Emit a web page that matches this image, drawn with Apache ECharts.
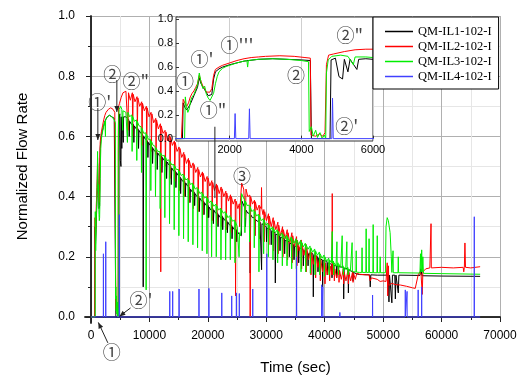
<!DOCTYPE html>
<html><head><meta charset="utf-8">
<script src="https://cdn.jsdelivr.net/npm/echarts@6/dist/echarts.min.js"></script>
<style>html,body{margin:0;padding:0;background:#fff}#c{width:522px;height:378px}</style>
</head><body><div id="c"></div>
<script>
const seriesNames = ['QM-IL1-102-I','QM-IL2-102-I','QM-IL3-102-I','QM-IL4-102-I'];

const il1Data = [[0,0],[680,0],[700,0.30],[750,0.26],[800,0.24],[850,0.24],[900,0.29],[1000,0.36],[1100,0.43],[1150,0.51],[1200,0.46],[1300,0.41],[1400,0.36],[1500,0.37],[1550,0.50],[1600,0.56],[1700,0.585],[1800,0.60],[2000,0.62],[2400,0.65],[2800,0.665],[3200,0.67],[3600,0.665],[4000,0.66],[4250,0.655],[4280,0.0],[4800,0.0],[4830,0.66],[4950,0.675],[5050,0.52],[5150,0.50],[5200,0.665],[5300,0.56],[5360,0.665],[5550,0.58],[5600,0.665],[5800,0.67],[6000,0.665],
[6500,0.655],[6560,0.60],[6640,0.65],[6950,0.64],[7300,0.64],[7360,0.58],[7440,0.635],[7750,0.625],[8100,0.625],[8160,0.56],[8240,0.62],[8550,0.61],[8900,0.605],[8960,0.10],[9040,0.60],[9350,0.59],[9700,0.585],[9760,0.53],[9840,0.58],[10150,0.57],[10500,0.565],[10560,0.51],[10640,0.56],[10950,0.55],[11300,0.55],[11360,0.49],[11440,0.545],[11750,0.535],[12100,0.535],[12160,0.48],[12240,0.53],[12550,0.52],[12900,0.52],[12960,0.46],[13040,0.515],[13350,0.505],[13700,0.50],[13760,0.44],[13840,0.495],[14150,0.485],[14500,0.485],[14560,0.43],[14640,0.48],[14950,0.47],[15300,0.465],[15360,0.41],[15440,0.46],[15750,0.45],[16100,0.45],[16160,0.40],[16240,0.445],[16550,0.435],[16900,0.43],[16960,0.38],[17040,0.425],[17350,0.415],[17700,0.415],[17760,0.37],[17840,0.41],[18150,0.40],[18500,0.40],[18560,0.35],[18640,0.395],[18950,0.385],[19300,0.385],[19360,0.34],[19440,0.38],[19750,0.37],[20100,0.37],[20160,0.33],[20240,0.365],[20550,0.355],[20900,0.36],[20960,0.31],[21040,0.355],[21350,0.345],[21700,0.345],[21760,0.30],[21840,0.34],[22150,0.33],[22500,0.335],[22560,0.29],[22640,0.33],[22950,0.32],[23300,0.32],[23360,0.28],[23440,0.315],[23750,0.305],[24100,0.305],[24160,0.26],[24240,0.30],[24550,0.29],[24900,0.29],[24960,0.25],[25040,0.285],[25350,0.275],
[25500,0.27],[25750,0.27],[25850,0.385],[26000,0.38],
[26400,0.36],[26460,0.30],[26540,0.355],[26850,0.345],[27200,0.345],[27260,0.146],[27340,0.34],[27650,0.33],[28000,0.33],[28060,0.27],[28140,0.325],[28450,0.318],[28800,0.32],[28860,0.26],[28940,0.315],[29150,0.31],[29210,0.157],[29270,0.31],[29500,0.305],[30000,0.30],[30060,0.25],[30140,0.295],[30450,0.29],[30800,0.29],[30860,0.24],[30940,0.285],[31250,0.28],[31500,0.28],[31560,0.113],[31640,0.275],[31950,0.27],[32300,0.27],[32360,0.22],[32440,0.265],[32750,0.26],[33100,0.26],[33160,0.21],[33240,0.255],[33550,0.25],[33900,0.25],[33960,0.20],[34040,0.245],[34350,0.24],[34700,0.24],[34760,0.19],[34840,0.235],[35150,0.235],[35500,0.235],[35560,0.18],[35640,0.23],[35950,0.225],[36300,0.225],[36360,0.17],[36440,0.22],[36750,0.215],[37100,0.215],[37160,0.17],[37240,0.21],[37550,0.21],[38000,0.21],[38060,0.067],[38140,0.205],[38450,0.20],[38800,0.20],[38860,0.15],[38940,0.195],[39250,0.19],[39600,0.19],[39660,0.10],[39740,0.188],[40050,0.185],[40400,0.185],[40460,0.14],[40540,0.18],[40850,0.175],[41200,0.175],[41260,0.13],[41340,0.172],[41650,0.17],[42000,0.17],[42060,0.13],[42140,0.168],[42450,0.166],[43200,0.165],[43260,0.06],[43340,0.162],[43650,0.16],[44000,0.16],[44060,0.08],[44140,0.157],[44450,0.153],[44800,0.15],[44860,0.12],[44940,0.148],[45250,0.145],
[45500,0.143],[46000,0.141],[47700,0.14],[47800,0.10],[47900,0.14],[49000,0.139],[50900,0.139],[51000,0.05],[51100,0.139],[51400,0.139],[51500,0.047],[51600,0.139],[52000,0.139],[52100,0.06],[52200,0.139],[52500,0.139],[52600,0.08],[52700,0.139],[56300,0.138],[56450,0.16],[56550,0.15],[56650,0.137],[60000,0.136],[66600,0.135]];

const il2Data = [[0,0],[650,0],[700,0.33],[760,0.29],[800,0.27],[850,0.30],[900,0.35],[950,0.38],[1000,0.40],[1050,0.43],[1100,0.46],[1150,0.53],[1200,0.48],[1250,0.44],[1300,0.42],[1350,0.39],[1400,0.38],[1450,0.39],[1500,0.42],[1550,0.53],[1600,0.58],[1700,0.60],[1800,0.615],[2000,0.635],[2200,0.655],[2400,0.67],[2600,0.68],[2800,0.685],[3000,0.69],[3400,0.695],[3800,0.69],[4100,0.68],[4250,0.675],
[4270,0.03],[4400,0.02],[4500,0.04],[4600,0.02],[4660,0.05],[4700,0.62],[4760,0.70],[4900,0.71],[5200,0.73],[5500,0.745],[5800,0.75],[6000,0.75],
[6300,0.752],[6360,0.62],[6440,0.745],[6750,0.72],[7100,0.745],[7160,0.60],[7240,0.74],[7550,0.715],[7900,0.732],[7960,0.62],[8040,0.728],[8350,0.70],[8700,0.715],[8760,0.57],[8840,0.71],[9150,0.685],[9500,0.70],[9560,0.58],[9640,0.695],[9950,0.665],[10300,0.68],[10360,0.55],[10440,0.675],[10750,0.645],[11100,0.66],[11160,0.54],[11240,0.655],[11550,0.625],[11900,0.642],[11960,0.15],[12040,0.635],[12350,0.61],[12700,0.62],[12760,0.50],[12840,0.615],[13150,0.585],[13500,0.603],[13560,0.46],[13640,0.597],[13950,0.57],[14300,0.585],[14360,0.45],[14440,0.58],[14750,0.55],[15100,0.565],[15160,0.42],[15240,0.56],[15550,0.53],[15900,0.547],[15960,0.40],[16040,0.54],[16350,0.51],[16700,0.527],[16760,0.38],[16840,0.52],[17150,0.495],[17500,0.512],[17560,0.36],[17640,0.507],[17950,0.48],[18300,0.497],[18360,0.35],[18440,0.49],[18750,0.465],[19100,0.482],[19160,0.34],[19240,0.477],[19550,0.45],[19900,0.467],[19960,0.33],[20040,0.462],[20350,0.435],[20700,0.453],[20760,0.32],[20840,0.447],[21150,0.42],[21500,0.442],[21560,0.31],[21640,0.437],[21950,0.41],[22300,0.432],[22360,0.30],[22440,0.426],[22750,0.40],[23100,0.418],[23160,0.29],[23240,0.412],[23550,0.385],[23900,0.406],[23960,0.28],[24040,0.40],[24350,0.375],[24700,0.392],[24760,0.07],[24840,0.385],[25150,0.36],[25400,0.376],[25460,0.30],[25540,0.37],[25700,0.365],
[25800,0.445],[25950,0.44],[26150,0.425],
[26400,0.43],[26460,0.33],[26540,0.425],[26850,0.40],[27200,0.405],[27260,0.0],[27340,0.40],[27650,0.375],[28000,0.388],[28060,0.27],[28140,0.383],[28450,0.355],[28800,0.372],[28860,0.26],[28940,0.367],[29150,0.36],[29200,0.43],[29250,0.36],[29450,0.34],[29600,0.357],[29660,0.25],[29740,0.35],[30050,0.32],[30400,0.343],[30460,0.24],[30540,0.335],[30850,0.30],[31200,0.33],[31260,0.22],[31340,0.32],[31650,0.29],[32000,0.315],[32060,0.21],[32140,0.305],[32450,0.27],[32800,0.30],[32860,0.20],[32940,0.29],[33250,0.26],[33600,0.29],[33660,0.19],[33740,0.28],[34050,0.245],[34400,0.28],[34460,0.18],[34540,0.27],[34850,0.235],[35200,0.267],[35260,0.17],[35340,0.255],[35650,0.22],[36000,0.256],[36060,0.16],[36140,0.245],[36450,0.205],[36800,0.242],[36860,0.15],[36940,0.23],[37250,0.19],[37600,0.227],[37660,0.14],[37740,0.215],[38050,0.175],[38400,0.216],[38460,0.13],[38540,0.205],[38850,0.165],[39200,0.202],[39260,0.12],[39340,0.19],[39650,0.15],[40000,0.192],[40060,0.11],[40140,0.18],[40450,0.14],[40800,0.18],[40860,0.12],[40940,0.17],[41250,0.14],[41300,0.41],[41350,0.14],[41600,0.17],[41660,0.12],[41740,0.16],[42050,0.13],[42400,0.165],[42460,0.115],[42540,0.155],[42850,0.125],[43200,0.16],[43260,0.11],[43340,0.15],[43650,0.12],[44000,0.157],[44060,0.11],[44140,0.148],[44450,0.12],[44800,0.152],[44860,0.115],[44940,0.145],[45250,0.125],
[45500,0.145],[46000,0.142],[47000,0.14],[47600,0.14],[47800,0.12],[48000,0.13],[48200,0.125],[49000,0.125],[49500,0.118],[50000,0.12],[50500,0.118],[50700,0.18],[50800,0.07],[50900,0.17],[51000,0.105],[51500,0.112],[52000,0.108],[53000,0.106],[54000,0.102],[55000,0.097],[55500,0.095],[56000,0.14],[56300,0.15],[56500,0.14],[56700,0.075],[56800,0.15],[57300,0.16],[58000,0.163],[58150,0.163],[58200,0.31],[58250,0.163],[60000,0.165],[62000,0.163],[63700,0.165],[63800,0.15],[63900,0.165],[64000,0.246],[64100,0.165],[65000,0.163],[66600,0.167]];

const il3Data = [[0,0],[740,0],[760,0.35],[790,0.27],[830,0.22],[870,0.25],[910,0.32],[950,0.35],[1000,0.37],[1050,0.41],[1100,0.45],[1150,0.55],[1200,0.47],[1250,0.42],[1300,0.44],[1350,0.37],[1400,0.34],[1450,0.32],[1500,0.33],[1550,0.38],[1600,0.46],[1650,0.52],[1700,0.56],[1800,0.59],[1900,0.605],[2000,0.615],[2200,0.635],[2400,0.65],[2480,0.655],[2500,0.60],[2520,0.655],[2800,0.665],[3200,0.67],[3600,0.665],[4000,0.655],[4200,0.645],
[4220,0.06],[4280,0.10],[4330,0.02],[4400,0.07],[4450,0.01],[4520,0.05],[4580,0.0],[4640,0.03],[4680,0.0],[4700,0.55],[4750,0.66],[4850,0.69],[5100,0.70],[5300,0.69],[5450,0.62],[5500,0.685],[5800,0.685],[6000,0.68],
[6200,0.685],[6260,0.58],[6340,0.68],[6650,0.665],[7000,0.672],[7060,0.55],[7140,0.667],[7450,0.65],[7800,0.655],[7860,0.52],[7940,0.65],[8250,0.635],[8600,0.632],[8660,0.48],[8740,0.627],[9050,0.61],[9400,0.612],[9460,0.09],[9540,0.607],[9850,0.59],[10200,0.59],[10260,0.42],[10340,0.585],[10650,0.57],[11000,0.567],[11060,0.40],[11140,0.562],[11450,0.55],[11800,0.55],[11860,0.36],[11940,0.545],[12250,0.535],[12600,0.537],[12660,0.33],[12740,0.532],[13050,0.52],[13400,0.522],[13460,0.31],[13540,0.517],[13850,0.505],[14200,0.507],[14260,0.29],[14340,0.502],[14650,0.49],[15000,0.49],[15060,0.27],[15140,0.485],[15450,0.47],[15800,0.475],[15860,0.26],[15940,0.47],[16250,0.455],[16600,0.46],[16660,0.25],[16740,0.455],[17050,0.44],[17400,0.445],[17460,0.24],[17540,0.44],[17850,0.425],[18200,0.43],[18260,0.23],[18340,0.425],[18650,0.41],[19000,0.415],[19060,0.22],[19140,0.41],[19450,0.395],[19800,0.40],[19860,0.21],[19940,0.395],[20250,0.38],[20600,0.386],[20660,0.20],[20740,0.381],[21050,0.368],[21400,0.375],[21460,0.20],[21540,0.37],[21850,0.355],[22200,0.362],[22260,0.19],[22340,0.357],[22650,0.345],[23000,0.35],[23060,0.19],[23140,0.345],[23450,0.33],[23800,0.337],[23860,0.19],[23940,0.332],[24250,0.318],[24600,0.322],[24660,0.18],[24740,0.317],[25050,0.30],
[25300,0.30],[25360,0.20],[25440,0.28],[25600,0.27],[25700,0.29],[25800,0.41],[26000,0.40],
[26300,0.39],[26360,0.28],[26440,0.385],[26750,0.37],[27100,0.372],[27160,0.25],[27240,0.367],[27550,0.35],[27900,0.357],[27960,0.23],[28040,0.352],[28350,0.335],[28700,0.342],[28760,0.15],[28840,0.337],[29150,0.32],[29500,0.327],[29560,0.21],[29640,0.322],[29950,0.305],[30300,0.312],[30360,0.20],[30440,0.307],[30750,0.29],[31100,0.30],[31160,0.19],[31240,0.295],[31550,0.28],[31900,0.29],[31960,0.18],[32040,0.285],[32350,0.27],[32700,0.28],[32760,0.17],[32840,0.275],[33150,0.26],[33500,0.272],[33560,0.17],[33640,0.267],[33950,0.25],[34300,0.266],[34360,0.16],[34440,0.26],[34750,0.245],[35100,0.26],[35160,0.16],[35240,0.255],[35550,0.24],[35900,0.255],[35960,0.15],[36040,0.25],[36350,0.233],[36700,0.245],[36760,0.15],[36840,0.24],[37150,0.225],[37500,0.236],[37560,0.145],[37640,0.23],[37950,0.215],[38300,0.226],[38360,0.14],[38440,0.22],[38750,0.205],[39100,0.216],[39160,0.14],[39240,0.21],[39550,0.195],[39900,0.206],[39960,0.135],[40040,0.20],[40350,0.185],[40700,0.196],[40760,0.14],[40840,0.19],[41150,0.18],[41250,0.18],[41300,0.284],[41350,0.178],[41500,0.186],[41560,0.14],[41640,0.18],[41950,0.17],[42050,0.17],[42100,0.25],[42150,0.168],[42300,0.18],[42360,0.14],[42440,0.175],[42750,0.165],[42950,0.165],[43000,0.27],[43050,0.163],[43150,0.17],[43210,0.14],[43290,0.165],[43600,0.158],[43750,0.158],[43800,0.25],[43850,0.156],[43950,0.165],[44010,0.14],[44090,0.16],[44400,0.152],[44650,0.152],[44700,0.247],[44750,0.15],
[45000,0.155],[45350,0.15],[45400,0.22],[45450,0.149],[46000,0.148],[46350,0.148],[46400,0.23],[46450,0.148],[47050,0.148],[47100,0.293],[47150,0.148],[47550,0.148],[47600,0.26],[47650,0.148],[48250,0.147],[48300,0.307],[48350,0.147],[48950,0.147],[49000,0.27],[49050,0.147],[49450,0.147],[49500,0.20],[49550,0.147],[50400,0.147],[50500,0.30],[50700,0.33],[50900,0.32],[51200,0.28],[51400,0.20],[51500,0.148],[51650,0.147],[51700,0.22],[51750,0.147],[52550,0.147],[52600,0.20],[52650,0.147],[56300,0.146],[56400,0.21],[56500,0.15],[56600,0.223],[56700,0.15],[56800,0.20],[56900,0.145],[60000,0.144],[66600,0.142]];

const il4Data = [[0,0],[2130,0],[2150,0.21],[2170,0],[2530,0],[2550,0.25],[2570,0],[4850,0],[4870,0.34],[4890,0],[13480,0],[13500,0.085],[13520,0],[13980,0],[14000,0.085],[14020,0],[15080,0],[15100,0.093],[15120,0],[18480,0],[18500,0.093],[18520,0],[20180,0],[20200,0.095],[20220,0],[22380,0],[22400,0.08],[22420,0],[24080,0],[24100,0.07],[24120,0],[24880,0],[24900,0.08],[24920,0],[25380,0],[25400,0.078],[25420,0],[27680,0],[27700,0.093],[27720,0],[30080,0],[30100,0.21],[30120,0],[35180,0],[35200,0.2],[35220,0],[39480,0],[39500,0.107],[39520,0],[39680,0],[39700,0.1],[39720,0],[42580,0],[42600,0.015],[42620,0],[48180,0],[48200,0.073],[48220,0],[53780,0],[53800,0.09],[53820,0],[54080,0],[54100,0.085],[54120,0],[55980,0],[56000,0.09],[56020,0],[56580,0],[56600,0.1],[56620,0],[65580,0],[65600,0.333],[65620,0],[66600,0]];

const mainXTicks = [0,10000,20000,30000,40000,50000,60000,70000];
const mainYTicks = [0,0.2,0.4,0.6,0.8,1.0];
const insetXTicks = [2000,4000,6000];
const insetYTicks = [0,0.2,0.4,0.6,0.8,1.0];

// annotations: [text, time, value] in data units of the main / inset axes
const mainNotes = [["①'",1540,0.714],["②",3680,0.807],["②\"",7700,0.784],["③",25840,0.468],["②'",8560,0.056],["①",3590,-0.116]];
const mainArrows = [[[1200,0.694],[1200,0.588]],[[4450,0.787],[4450,0.681]],[[6790,0.030],[4880,0.002]],[[2910,-0.086],[1280,-0.018]]];
const mainPointer = [[21220,0.632],[21220,0.395]];
const insetNotes = [["①",751,0.479],["①'",1225,0.664],["①'''",2200,0.785],["①\"",1532,0.24],["②",3847,0.534],["②\"",5353,0.869],["②'",5270,0.102]];

const seriesData = [il1Data, il2Data, il3Data, il4Data];
const colors = ['#000000','#ff0000','#00ee00','#4040ff'];
const sansFont = 'Liberation Sans, Arial, sans-serif';
const noteFont = 'Noto Sans CJK JP, DejaVu Serif, serif';

const chart = echarts.init(document.getElementById('c'), null, {renderer:'canvas'});

const series = [];
seriesData.forEach((d,i)=>{
  series.push({type:'line', name:seriesNames[i], data:d, xAxisIndex:0, yAxisIndex:0, symbol:'none', showSymbol:false, silent:true,
    lineStyle:{width:1, color:colors[i]}, itemStyle:{color:colors[i]}, z:2});
});
seriesData.forEach((d,i)=>{
  series.push({type:'line', name:seriesNames[i], data:d, xAxisIndex:4, yAxisIndex:4, symbol:'none', showSymbol:false, silent:true,
    lineStyle:{width:1, color:colors[i]}, itemStyle:{color:colors[i]}, z:12});
});

const frameLine = {show:true, lineStyle:{color:'#222', width:1.5}};
const hidden = {show:false};
const option = {
  animation:false,
  backgroundColor:'#fff',
  grid:[
    {left:85, right:22, top:16, bottom:55, outerBoundsMode:'none'},
    {left:91, right:22, top:16, bottom:61, outerBoundsMode:'none'},
    {left:176, right:149, top:17, bottom:237, show:true, backgroundColor:'#fff', borderColor:'#333', borderWidth:1, z:10, outerBoundsMode:'none'}
  ],
  xAxis:[
    {type:'value', gridIndex:0, position:'bottom', min:-1000, max:70000, axisLine:frameLine, axisTick:hidden, axisLabel:hidden, splitLine:hidden},
    {type:'value', gridIndex:0, position:'top', min:-1000, max:70000, axisLine:frameLine, axisTick:hidden, axisLabel:hidden, splitLine:hidden},
    {type:'value', gridIndex:1, position:'bottom', offset:6, min:mainXTicks[0], max:mainXTicks[mainXTicks.length-1], interval:mainXTicks[1]-mainXTicks[0],
      axisLine:hidden, axisTick:{show:true, length:5, lineStyle:{color:'#222'}}, minorTick:{show:true, splitNumber:2, length:3, lineStyle:{color:'#222'}},
      axisLabel:{show:true, margin:7, fontSize:12, color:'#000', fontFamily:sansFont, formatter:v=>String(v)},
      splitLine:{show:true, lineStyle:{color:'#b0b0b0', width:1}}, minorSplitLine:{show:true, lineStyle:{color:'#e6e6e6', width:1}},
      name:'Time (sec)', nameLocation:'middle', nameGap:37, nameTextStyle:{fontSize:15, color:'#000', fontFamily:sansFont}},
    {type:'value', gridIndex:1, position:'top', min:mainXTicks[0], max:mainXTicks[mainXTicks.length-1], interval:mainXTicks[1]-mainXTicks[0],
      axisLine:hidden, axisTick:{show:true, inside:true, length:4, lineStyle:{color:'#222'}}, minorTick:{show:true, splitNumber:2, length:3, lineStyle:{color:'#222'}},
      axisLabel:hidden, splitLine:hidden},
    {type:'value', gridIndex:2, min:500, max:6000, z:11,
      axisLine:hidden, axisTick:{show:true, inside:true, length:3, customValues:insetXTicks, lineStyle:{color:'#333'}},
      axisLabel:{show:true, customValues:insetXTicks, margin:3, fontSize:11, color:'#000', fontFamily:sansFont, formatter:v=>String(v)},
      splitLine:{show:true, lineStyle:{color:'#cfcfcf', width:1}}}
  ],
  yAxis:[
    {type:'value', gridIndex:0, position:'left', min:-0.02, max:1.0, axisLine:frameLine, axisTick:hidden, axisLabel:hidden, splitLine:hidden},
    {type:'value', gridIndex:0, position:'right', min:-0.02, max:1.0, axisLine:frameLine, axisTick:hidden, axisLabel:hidden, splitLine:hidden},
    {type:'value', gridIndex:1, position:'left', offset:6, min:mainYTicks[0], max:mainYTicks[mainYTicks.length-1], interval:mainYTicks[1]-mainYTicks[0],
      axisLine:hidden, axisTick:{show:true, length:5, lineStyle:{color:'#222'}}, minorTick:{show:true, splitNumber:2, length:3, lineStyle:{color:'#222'}},
      axisLabel:{show:true, margin:10, fontSize:12, color:'#000', fontFamily:sansFont, formatter:v=>v.toFixed(1)},
      splitLine:{show:true, lineStyle:{color:'#b0b0b0', width:1}}, minorSplitLine:{show:true, lineStyle:{color:'#e6e6e6', width:1}},
      name:'Normalized Flow Rate', nameLocation:'middle', nameGap:55, nameTextStyle:{fontSize:15, color:'#000', fontFamily:sansFont}},
    {type:'value', gridIndex:1, position:'right', min:mainYTicks[0], max:mainYTicks[mainYTicks.length-1], interval:mainYTicks[1]-mainYTicks[0],
      axisLine:hidden, axisTick:{show:true, inside:true, length:4, lineStyle:{color:'#222'}}, minorTick:{show:true, splitNumber:2, length:3, lineStyle:{color:'#222'}},
      axisLabel:hidden, splitLine:hidden},
    {type:'value', gridIndex:2, min:-0.02, max:1.02, z:11,
      axisLine:hidden, axisTick:{show:true, inside:true, length:3, customValues:insetYTicks, lineStyle:{color:'#333'}},
      axisLabel:{show:true, customValues:insetYTicks, margin:3, fontSize:11, color:'#000', fontFamily:sansFont, formatter:v=>v.toFixed(1)},
      splitLine:hidden}
  ],
  legend:{data:seriesNames, left:373, top:17, orient:'vertical', icon:'rect', itemWidth:28, itemHeight:1.5, itemGap:0, padding:[7,7,5,12],
    backgroundColor:'#fff', borderColor:'#000', borderWidth:1, selectedMode:false, z:20,
    textStyle:{fontFamily:'Liberation Serif, Times New Roman, serif', fontSize:12.5, lineHeight:15, color:'#000'}},
  series: series
};
chart.setOption(option);

// annotations placed through the chart's own axes
const graphics = [];
function addNote(txt, p, size){
  graphics.push({type:'text', x:p[0], y:p[1], z:100, silent:true,
    style:{text:txt, fill:'#444', fontSize:size, fontFamily:noteFont, align:'center', verticalAlign:'middle'}});
}
function addLine(a, b, arrow){
  graphics.push({type:'line', z:100, silent:true, shape:{x1:a[0], y1:a[1], x2:b[0], y2:b[1]}, style:{stroke:'#222', lineWidth:1}});
  if (arrow){
    const dx=b[0]-a[0], dy=b[1]-a[1], L=Math.hypot(dx,dy)||1, ux=dx/L, uy=dy/L, s=6, w=2.5;
    graphics.push({type:'polygon', z:100, silent:true, shape:{points:[[b[0],b[1]],[b[0]-ux*s-uy*w,b[1]-uy*s+ux*w],[b[0]-ux*s+uy*w,b[1]-uy*s-ux*w]]}, style:{fill:'#222'}});
  }
}
const mainRef = {xAxisIndex:0, yAxisIndex:0};
const insetRef = {xAxisIndex:4, yAxisIndex:4};
mainNotes.forEach(n=>addNote(n[0], chart.convertToPixel(mainRef,[n[1],n[2]]), 18));
mainArrows.forEach(a=>addLine(chart.convertToPixel(mainRef,a[0]), chart.convertToPixel(mainRef,a[1]), true));
addLine(chart.convertToPixel(mainRef,mainPointer[0]), chart.convertToPixel(mainRef,mainPointer[1]), false);
insetNotes.forEach(n=>addNote(n[0], chart.convertToPixel(insetRef,[n[1],n[2]]), 18));
chart.setOption({graphic:graphics});
</script></body></html>
